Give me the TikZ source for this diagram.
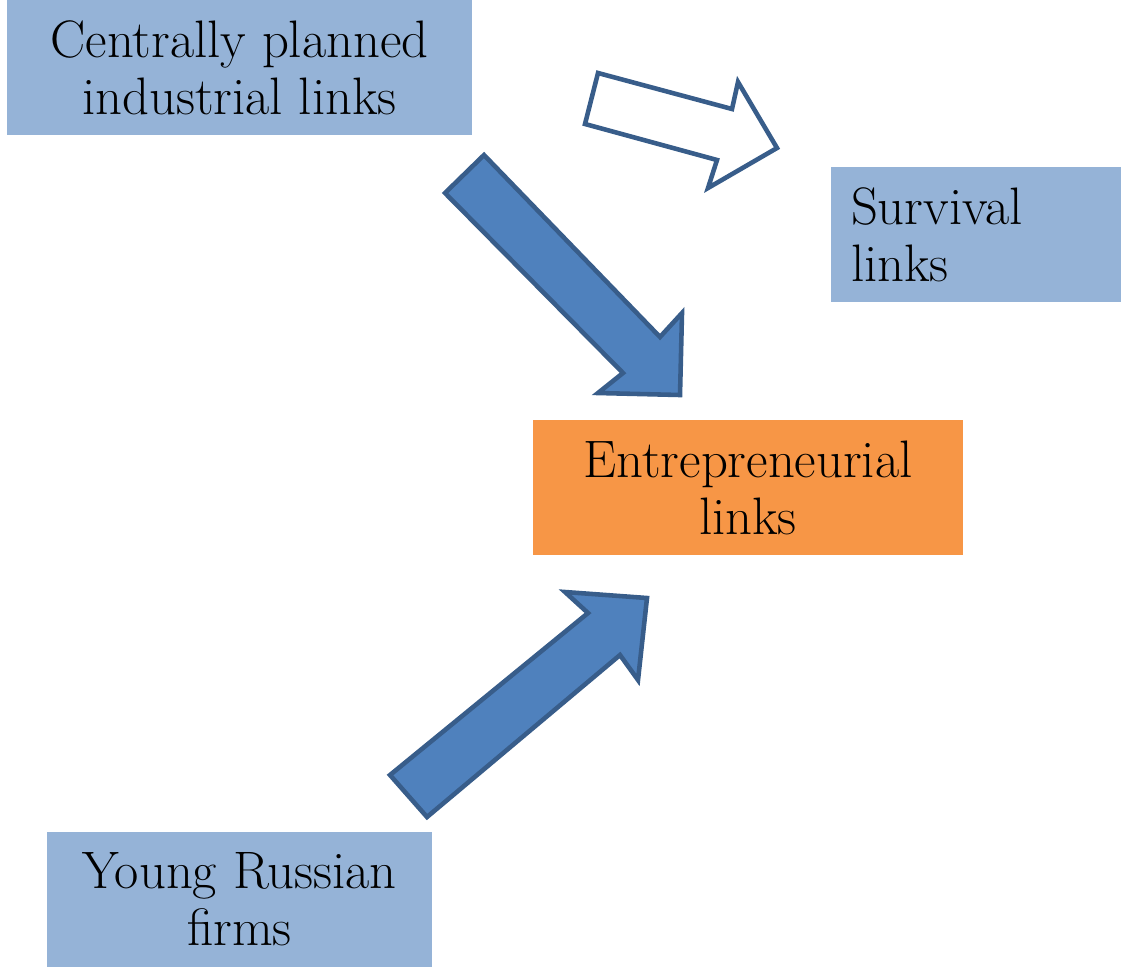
\documentclass[tikz,border=0pt]{standalone}
\usepackage{tikz}
\usetikzlibrary{positioning}

\definecolor{boxblue}{HTML}{95B3D7}
\definecolor{boxorange}{HTML}{F79646}
\definecolor{arrowfill}{HTML}{4F81BD}
\definecolor{arrowline}{HTML}{385D8A}

\tikzset{
    linkbox/.style={rectangle, fill=boxblue, minimum height=1.35cm, inner sep=0pt,
        align=center, font=\fontsize{15}{16.2}\selectfont},
    fatarrow/.style={fill=arrowfill, draw=arrowline, line width=1.3pt},
    emptyarrow/.style={fill=white, draw=arrowline, line width=1.3pt}
}

\begin{document}
\begin{tikzpicture}
    \useasboundingbox (0,0) rectangle (11.24,-9.67);

    % Boxes
    \node[linkbox, minimum width=4.65cm] (planned) at (2.395,-0.675) {Centrally planned\\industrial links};
    \node[linkbox, minimum width=2.9cm, text width=2.5cm, inner xsep=0.2cm, align=left] (survival) at (9.76,-2.345) {Survival\\links};
    \node[linkbox, fill=boxorange, minimum width=4.3cm] (entre) at (7.48,-4.875) {Entrepreneurial\\links};
    \node[linkbox, minimum width=3.85cm] (young) at (2.395,-8.995) {Young Russian\\firms};

    % Hollow arrow (towards survival links)
    \draw[emptyarrow] (5.98,-0.73) -- (7.32,-1.09) -- (7.38,-0.82) -- (7.77,-1.48)
        -- (7.08,-1.88) -- (7.17,-1.60) -- (5.85,-1.24) -- cycle;

    % Arrow from centrally planned links
    \draw[fatarrow] (4.45,-1.93) -- (4.84,-1.55) -- (6.60,-3.37) -- (6.82,-3.13)
        -- (6.80,-3.95) -- (5.98,-3.93) -- (6.23,-3.73) -- cycle;

    % Arrow from young firms
    \draw[fatarrow] (3.90,-7.75) -- (5.88,-6.13) -- (5.65,-5.92) -- (6.47,-5.98)
        -- (6.38,-6.80) -- (6.20,-6.55) -- (4.27,-8.17) -- cycle;

\end{tikzpicture}
\end{document}
